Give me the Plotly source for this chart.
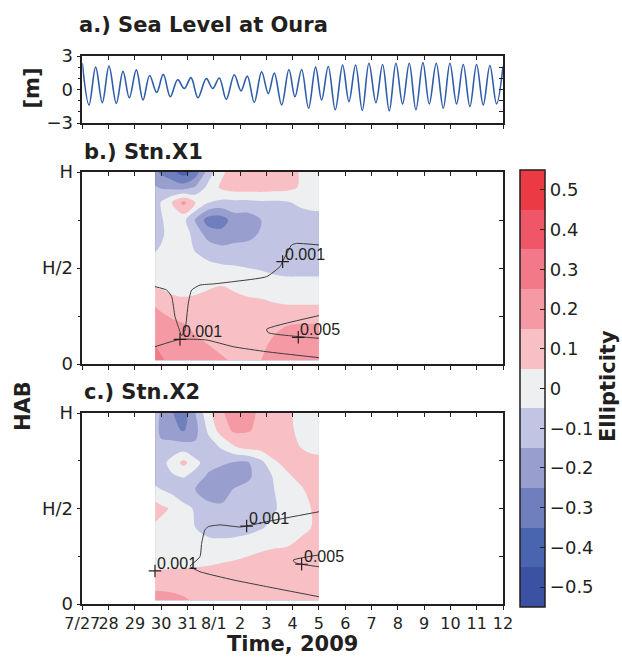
import plotly.graph_objects as go

# ---------------- data ----------------
DAY_VALUES = list(range(17))  # days since 2009-07-27 00:00
DAY_LABELS = ["7/27", "28", "29", "30", "31", "8/1", "2", "3", "4", "5",
              "6", "7", "8", "9", "10", "11", "12"]

# sea level at Oura: successive high / low waters (day, metres)
TIDE_T = [0.0, 0.255, 0.508, 0.762, 1.015, 1.294, 1.548, 1.788, 2.054, 2.308,
          2.561, 2.828, 3.081, 3.347, 3.626, 3.880, 4.133, 4.399, 4.716, 4.957,
          5.210, 5.476, 5.781, 6.034, 6.275, 6.541, 6.820, 7.073, 7.302, 7.581,
          7.859, 8.087, 8.341, 8.607, 8.873, 9.101, 9.355, 9.621, 9.900, 10.141,
          10.394, 10.648, 10.901, 11.167, 11.421, 11.674, 11.928, 12.181, 12.435,
          12.688, 12.954, 13.195, 13.461, 13.727, 13.981, 14.235, 14.488, 14.741,
          14.995, 15.248, 15.502, 15.755, 16.0]
TIDE_M = [2.35, -1.38, 2.0, -1.18, 2.09, -1.24, 1.62, -0.74, 1.76, -0.94,
          1.26, -0.26, 1.35, -0.65, 0.88, 0.09, 1.06, -0.74, 0.97, 0.09,
          1.03, -0.88, 1.32, -0.12, 1.2, -1.15, 1.59, -0.35, 1.47, -1.38,
          1.79, -0.65, 1.79, -1.68, 2.0, -0.94, 2.06, -1.82, 2.18, -1.09,
          2.2, -1.88, 2.35, -1.18, 2.24, -1.91, 2.35, -1.29, 2.35,
          -1.82, 2.41, -1.29, 2.35, -1.68, 2.35, -1.29, 2.24, -1.53,
          2.24, -1.38, 2.15, -1.29, 2.06]

# ellipticity grids (time in days since 7/27, height above bottom as fraction of H)
GRID_T = [2.77, 3.0, 3.4, 3.85, 4.3, 4.8, 5.3, 5.8, 6.3, 6.8, 7.3, 7.8, 8.3, 8.7, 9.0]

HAB_X1 = [0.02, 0.1, 0.2, 0.3, 0.4, 0.5, 0.6, 0.68, 0.75, 0.84, 0.92, 1.0]
ELL_X1 = [
    [0.29, 0.26, 0.23, 0.21, 0.20, 0.18, 0.16, 0.14, 0.13, 0.15, 0.19, 0.21, 0.22, 0.22, 0.21],
    [0.25, 0.23, 0.21, 0.20, 0.17, 0.15, 0.13, 0.11, 0.11, 0.13, 0.17, 0.20, 0.21, 0.21, 0.20],
    [0.22, 0.20, 0.18, 0.16, 0.13, 0.11, 0.10, 0.10, 0.10, 0.11, 0.13, 0.15, 0.16, 0.16, 0.16],
    [0.15, 0.13, 0.10, 0.08, 0.08, 0.08, 0.08, 0.08, 0.07, 0.07, 0.06, 0.055, 0.055, 0.055, 0.055],
    [0.05, 0.04, 0.02, 0.02, 0.03, 0.045, 0.055, 0.04, 0.03, 0.02, 0.01, 0.0, 0.0, 0.0, 0.0],
    [0.0, 0.0, 0.0, 0.0, 0.0, -0.02, -0.03, -0.04, -0.05, -0.06, -0.08, -0.09, -0.09, -0.09, -0.09],
    [-0.06, -0.04, 0.0, 0.0, -0.06, -0.10, -0.13, -0.12, -0.12, -0.11, -0.11, -0.10, -0.10, -0.10, -0.10],
    [-0.12, -0.07, 0.0, 0.0, -0.09, -0.20, -0.22, -0.20, -0.18, -0.14, -0.12, -0.11, -0.10, -0.10, -0.10],
    [-0.12, -0.06, 0.0, -0.02, -0.16, -0.30, -0.30, -0.20, -0.20, -0.15, -0.12, -0.11, -0.10, -0.10, -0.10],
    [-0.12, -0.04, 0.05, 0.18, 0.05, -0.05, -0.08, -0.08, -0.08, -0.07, -0.07, -0.06, -0.03, -0.01, 0.0],
    [-0.14, -0.16, -0.18, -0.20, -0.14, -0.02, 0.07, 0.10, 0.10, 0.10, 0.09, 0.08, 0.04, 0.0, -0.02],
    [-0.22, -0.27, -0.32, -0.40, -0.31, -0.10, 0.03, 0.10, 0.12, 0.12, 0.12, 0.10, 0.04, 0.0, -0.01],
]

HAB_X2 = [0.02, 0.1, 0.2, 0.3, 0.4, 0.5, 0.6, 0.67, 0.74, 0.82, 0.91, 1.0]
ELL_X2 = [
    [0.18, 0.18, 0.17, 0.16, 0.14, 0.12, 0.11, 0.10, 0.10, 0.10, 0.10, 0.10, 0.10, 0.10, 0.10],
    [0.13, 0.13, 0.13, 0.12, 0.11, 0.10, 0.10, 0.10, 0.10, 0.10, 0.10, 0.10, 0.10, 0.10, 0.10],
    [0.03, 0.03, 0.035, 0.04, 0.045, 0.05, 0.06, 0.07, 0.08, 0.09, 0.10, 0.10, 0.10, 0.10, 0.10],
    [0.0, 0.0, 0.0, 0.0, 0.0, -0.01, -0.01, 0.0, 0.02, 0.035, 0.045, 0.05, 0.07, 0.08, 0.08],
    [0.03, 0.02, 0.0, -0.02, -0.05, -0.09, -0.10, -0.10, -0.09, -0.06, -0.02, 0.0, 0.03, 0.05, 0.06],
    [0.10, 0.07, 0.04, -0.02, -0.06, -0.12, -0.13, -0.12, -0.12, -0.10, -0.06, -0.01, 0.02, 0.05, 0.07],
    [-0.03, -0.05, -0.08, -0.12, -0.15, -0.20, -0.20, -0.14, -0.12, -0.10, -0.05, 0.0, 0.04, 0.07, 0.08],
    [-0.10, -0.10, -0.06, -0.04, -0.08, -0.17, -0.22, -0.22, -0.17, -0.10, -0.04, 0.04, 0.07, 0.08, 0.08],
    [-0.10, -0.08, -0.02, 0.08, -0.02, -0.10, -0.13, -0.16, -0.16, -0.08, 0.04, 0.07, 0.08, 0.08, 0.08],
    [-0.12, -0.13, -0.10, -0.10, -0.13, -0.10, -0.04, 0.04, 0.08, 0.09, 0.09, 0.08, 0.05, 0.03, 0.02],
    [-0.12, -0.17, -0.22, -0.26, -0.18, -0.03, 0.10, 0.17, 0.16, 0.12, 0.10, 0.07, 0.03, 0.0, 0.0],
    [-0.12, -0.16, -0.24, -0.32, -0.15, 0.02, 0.14, 0.19, 0.18, 0.13, 0.10, 0.07, 0.02, 0.0, 0.0],
]

# contour lines of the second quantity (day, HAB fraction)
X1_LINE_A_T = [2.764, 3.208, 3.398, 3.525, 3.651, 3.778, 3.905, 4.032, 4.158, 4.475,
               4.982, 5.743, 7.010, 7.517, 7.619, 7.961, 8.151, 9.0]
X1_LINE_A_H = [0.403, 0.385, 0.351, 0.247, 0.194, 0.148, 0.177, 0.316, 0.385, 0.411,
               0.417, 0.429, 0.455, 0.507, 0.533, 0.620, 0.628, 0.620]
X1_LINE_B_T = [2.764, 3.715, 4.729, 5.743, 7.010, 9.0]
X1_LINE_B_H = [0.090, 0.128, 0.125, 0.090, 0.064, 0.033]
X1_LINE_C_T = [9.0, 7.010, 7.073, 8.278, 9.0]
X1_LINE_C_H = [0.252, 0.181, 0.163, 0.142, 0.134]
X1_LABEL_T = [7.619, 3.715, 8.214]
X1_LABEL_H = [0.533, 0.128, 0.139]
X1_LABEL_TXT = ["0.001", "0.001", "0.005"]

X2_LINE_A_T = [4.095, 4.475, 4.539, 4.665, 4.792, 5.236, 5.996, 6.250, 7.010, 9.0]
X2_LINE_A_H = [0.199, 0.248, 0.318, 0.389, 0.405, 0.414, 0.403, 0.408, 0.431, 0.483]
X2_LINE_B_T = [4.095, 4.475, 5.743, 7.010, 9.0]
X2_LINE_B_H = [0.195, 0.169, 0.126, 0.091, 0.038]
X2_LINE_C_T = [9.0, 8.024, 8.087, 9.0]
X2_LINE_C_H = [0.257, 0.230, 0.216, 0.195]
X2_LABEL_T = [2.764, 6.250, 8.341]
X2_LABEL_H = [0.173, 0.408, 0.208]
X2_LABEL_TXT = ["0.001", "0.001", "0.005"]

CB_TICKS = [-0.5, -0.4, -0.3, -0.2, -0.1, 0.0, 0.1, 0.2, 0.3, 0.4, 0.5]
CB_LABELS = ["\u22120.5", "\u22120.4", "\u22120.3", "\u22120.2", "\u22120.1", "0",
             "0.1", "0.2", "0.3", "0.4", "0.5"]
BAND_COLORS = ["#3B51A1", "#4A65AF", "#6F7EBD", "#989ECE", "#C1C4E2", "#EEEFF1",
               "#F8BFC5", "#F59AA4", "#F27987", "#EF5768", "#EC3A44"]

# ---------------- style / layout helpers ----------------
W, H = 622, 657
AX = "#231F20"
TICK_FONT = dict(family="DejaVu Sans", size=18, color=AX)
XTICK_FONT = dict(family="DejaVu Sans", size=16, color=AX)
TITLE_FONT = dict(family="DejaVu Sans", size=21, color=AX)
LABEL_FONT = dict(family="Liberation Sans", size=16, color=AX)


def px(x):
    return x / W


def py(y):
    return 1 - y / H


XD = [px(82.3), px(503)]
YA = [py(123), py(56)]
YB = [py(364), py(172)]
YC = [py(604), py(413)]

n = len(BAND_COLORS)
STEP_CS = []
for i, c in enumerate(BAND_COLORS):
    STEP_CS.append([i / n, c])
    STEP_CS.append([(i + 1) / n, c])

fig = go.Figure()
annotations = []

# panel a
fig.add_trace(go.Scatter(x=TIDE_T, y=TIDE_M, mode="lines", xaxis="x", yaxis="y",
                         line=dict(color="#2F5DAA", width=1.6, shape="spline", smoothing=1.0),
                         hoverinfo="skip", showlegend=False))


def add_panel(xa, ya, hab, ell, show_scale, lines, lab_t, lab_h, lab_txt):
    fig.add_trace(go.Contour(
        x=GRID_T, y=hab, z=ell, xaxis=xa, yaxis=ya,
        colorscale=STEP_CS, zmin=-0.55, zmax=0.55, autocontour=False,
        contours=dict(start=-0.55, end=0.55, size=0.1, coloring="fill", showlines=False),
        line=dict(width=0, smoothing=0.9), hoverinfo="skip",
        showscale=show_scale,
        colorbar=dict(x=px(520), xanchor="left", xpad=0, y=py(388.5), yanchor="middle",
                      ypad=0, len=437, lenmode="pixels", thickness=25,
                      thicknessmode="pixels", outlinecolor=AX, outlinewidth=1.5,
                      tickvals=CB_TICKS, ticktext=CB_LABELS, ticks="inside",
                      ticklen=5, tickcolor=AX, tickwidth=1, tickfont=TICK_FONT),
    ))
    for lt, lh in lines:
        fig.add_trace(go.Scatter(x=lt, y=lh, mode="lines", xaxis=xa, yaxis=ya,
                                 line=dict(color="#3C3C3C", width=1, shape="spline", smoothing=0.5),
                                 hoverinfo="skip", showlegend=False))
    fig.add_trace(go.Scatter(x=lab_t, y=lab_h, mode="markers", xaxis=xa, yaxis=ya,
                             marker=dict(symbol="cross-thin", size=9,
                                         line=dict(width=1.2, color=AX)),
                             hoverinfo="skip", showlegend=False, cliponaxis=False))
    for t, h, s in zip(lab_t, lab_h, lab_txt):
        annotations.append(dict(text=s, x=t, y=h, xref=xa, yref=ya, xanchor="left",
                                yanchor="bottom", xshift=0, yshift=-3, showarrow=False,
                                font=LABEL_FONT))


add_panel("x2", "y2", HAB_X1, ELL_X1, True,
          [(X1_LINE_A_T, X1_LINE_A_H), (X1_LINE_B_T, X1_LINE_B_H), (X1_LINE_C_T, X1_LINE_C_H)],
          X1_LABEL_T, X1_LABEL_H, X1_LABEL_TXT)
add_panel("x3", "y3", HAB_X2, ELL_X2, False,
          [(X2_LINE_A_T, X2_LINE_A_H), (X2_LINE_B_T, X2_LINE_B_H), (X2_LINE_C_T, X2_LINE_C_H)],
          X2_LABEL_T, X2_LABEL_H, X2_LABEL_TXT)

# empty traces so overlay axes (inside ticks on top / right) are drawn
for xa, ya in [("x4", "y"), ("x", "y4"), ("x5", "y2"), ("x2", "y5"), ("x6", "y3"), ("x3", "y6")]:
    fig.add_trace(go.Scatter(x=[None], y=[None], xaxis=xa, yaxis=ya, mode="lines",
                             hoverinfo="skip", showlegend=False))

common = dict(showgrid=False, zeroline=False, linecolor=AX, linewidth=1.5,
              tickcolor=AX, tickwidth=1, ticklen=4, tickfont=TICK_FONT)


def xmain(anchor, labels):
    return dict(common, domain=XD, anchor=anchor, range=[0, 16], tickvals=DAY_VALUES,
                ticktext=DAY_LABELS, showticklabels=labels, ticks="outside",
                tickangle=0, tickfont=XTICK_FONT, showline=True, mirror=True)


def xover(over, anchor):
    return dict(common, overlaying=over, anchor=anchor, side="top", range=[0, 16],
                tickvals=DAY_VALUES, showticklabels=False, ticks="inside", showline=False)


def ymain(domain, anchor, rng, tv, tt, minor):
    return dict(common, domain=domain, anchor=anchor, range=rng, tickvals=tv, ticktext=tt,
                ticks="outside", showline=True, mirror=True,
                minor=dict(tickvals=minor, ticks="outside", ticklen=3, tickcolor=AX))


def yover(over, anchor, rng, tv):
    return dict(common, overlaying=over, anchor=anchor, side="right", range=rng,
                tickvals=tv, showticklabels=False, ticks="inside", showline=False)


HAB_TICKS = [0, 0.5, 1]
HAB_TEXT = ["0", "H/2", "H"]

fig.update_layout(
    width=W, height=H, margin=dict(l=0, r=0, t=0, b=0), autosize=False,
    paper_bgcolor="white", plot_bgcolor="white", showlegend=False,
    template="none",
    xaxis=xmain("y", False), xaxis2=xmain("y2", False), xaxis3=xmain("y3", True),
    xaxis4=xover("x", "y"), xaxis5=xover("x2", "y2"), xaxis6=xover("x3", "y3"),
    yaxis=ymain(YA, "x", [-3, 3], [-3, 0, 3], ["\u22123", "0", "3"], [-2, -1, 1, 2]),
    yaxis2=ymain(YB, "x2", [0, 1], HAB_TICKS, HAB_TEXT, [0.25, 0.75]),
    yaxis3=ymain(YC, "x3", [0, 1], HAB_TICKS, HAB_TEXT, [0.25, 0.75]),
    yaxis4=yover("y", "x", [-3, 3], [-3, -2, -1, 0, 1, 2, 3]),
    yaxis5=yover("y2", "x2", [0, 1], [0, 0.25, 0.5, 0.75, 1]),
    yaxis6=yover("y3", "x3", [0, 1], [0, 0.25, 0.5, 0.75, 1]),
)

titles = [
    dict(text="<b>a.) Sea Level at Oura</b>", x=px(77), y=py(25.5), xanchor="left", yanchor="middle"),
    dict(text="<b>b.) Stn.X1</b>", x=px(82), y=py(152), xanchor="left", yanchor="middle"),
    dict(text="<b>c.) Stn.X2</b>", x=px(82), y=py(392), xanchor="left", yanchor="middle"),
    dict(text="<b>[m]</b>", x=px(31.5), y=py(88), xanchor="center", yanchor="middle", textangle=-90),
    dict(text="<b>HAB</b>", x=px(23), y=py(406), xanchor="center", yanchor="middle", textangle=-90),
    dict(text="<b>Time, 2009</b>", x=px(292.6), y=py(644), xanchor="center", yanchor="middle"),
    dict(text="<b>Ellipticity</b>", x=px(608), y=py(386), xanchor="center", yanchor="middle", textangle=-90),
]
for a in titles:
    a.update(xref="paper", yref="paper", showarrow=False, font=TITLE_FONT)
fig.update_layout(annotations=titles + annotations)

fig.write_html("out.html")
